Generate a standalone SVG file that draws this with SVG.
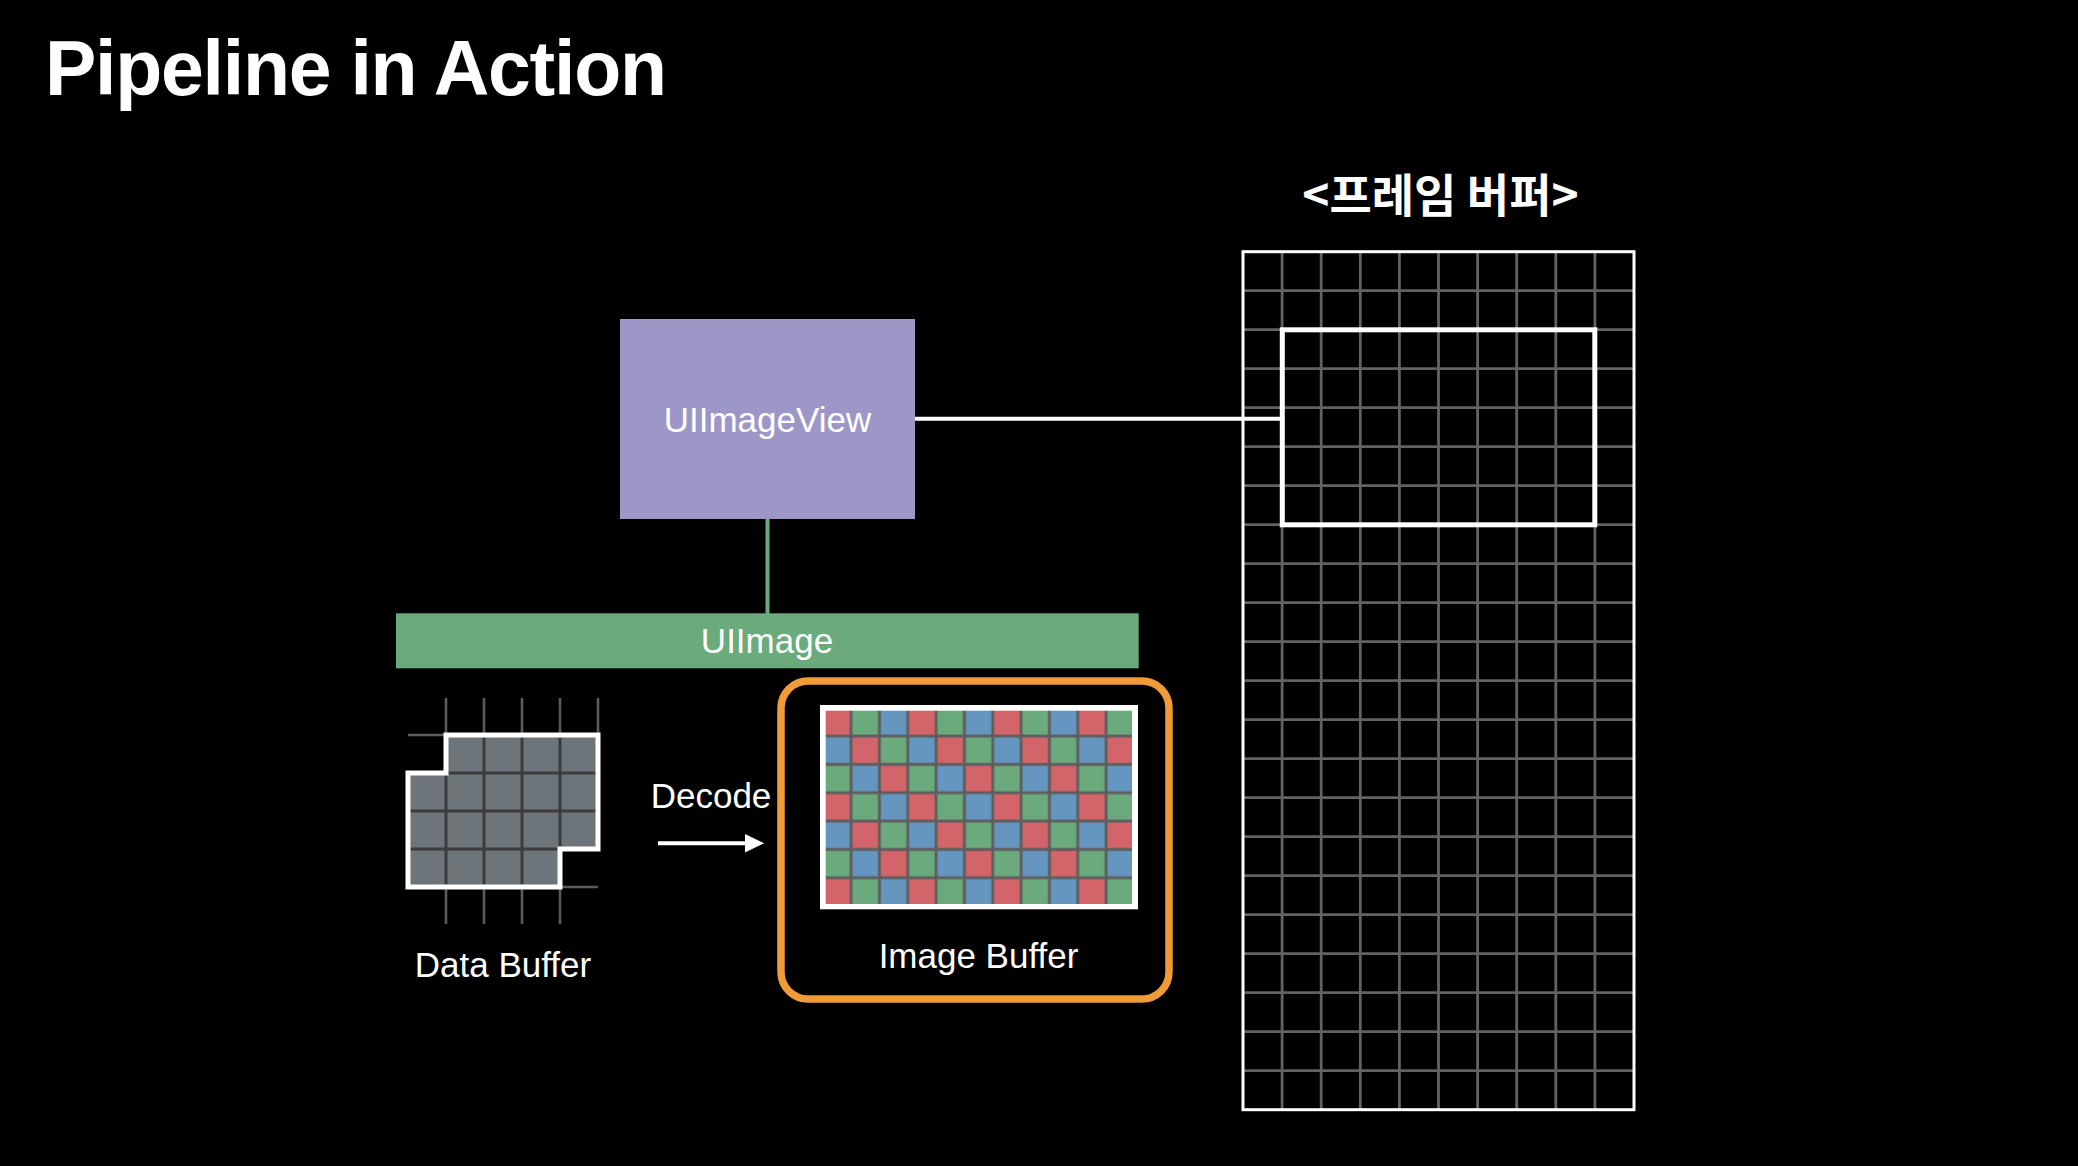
<svg xmlns="http://www.w3.org/2000/svg" width="2078" height="1166" viewBox="0 0 2078 1166">
<style>
.lbl{font-family:"Liberation Sans",Arial,sans-serif;font-size:35px;fill:#ffffff;text-anchor:middle}
.fgrid{stroke:#626262;stroke-width:2.8}
.dgrid{stroke:#3c3c3c;stroke-width:3}
.dext{stroke:#5a5a5a;stroke-width:2.6}
</style>
<defs>
<pattern id="rgb" patternUnits="userSpaceOnUse" x="822.7" y="707.7" width="85" height="85">
<rect width="85" height="85" fill="#5e5e5e"/>
<rect x="1.5" y="1.5" width="25.4" height="25.4" fill="#D3646A"/>
<rect x="29.8" y="1.5" width="25.4" height="25.4" fill="#6AAA7C"/>
<rect x="58.2" y="1.5" width="25.4" height="25.4" fill="#6496BF"/>
<rect x="1.5" y="29.8" width="25.4" height="25.4" fill="#6496BF"/>
<rect x="29.8" y="29.8" width="25.4" height="25.4" fill="#D3646A"/>
<rect x="58.2" y="29.8" width="25.4" height="25.4" fill="#6AAA7C"/>
<rect x="1.5" y="58.2" width="25.4" height="25.4" fill="#6AAA7C"/>
<rect x="29.8" y="58.2" width="25.4" height="25.4" fill="#6496BF"/>
<rect x="58.2" y="58.2" width="25.4" height="25.4" fill="#D3646A"/>
</pattern>
<clipPath id="dclip"><path d="M446,735 H598 V849 H560 V887 H408 V773 H446 Z"/></clipPath>
<marker id="arrow" markerUnits="userSpaceOnUse" markerWidth="20" markerHeight="20" refX="0" refY="9.3" orient="auto">
<path d="M0,0 L19,9.3 L0,18.6 Z" fill="#ffffff"/>
</marker>
</defs>
<rect width="2078" height="1166" fill="#000000"/>

<g id="title">
<text x="45" y="95" font-family="Liberation Sans, Arial, sans-serif" font-weight="bold" font-size="77" fill="#ffffff" textLength="622">Pipeline in Action</text>
</g>

<g id="frame-buffer-title">
<text x="1440.5" y="212" font-family="'Noto Sans CJK KR', sans-serif" font-weight="bold" font-size="46" fill="#ffffff" text-anchor="middle">&lt;프레임 버퍼&gt;</text>
</g>

<g id="frame-buffer">
<rect x="1243" y="251.7" width="391" height="858" fill="#000000"/>
<g class="fgrid">
<line x1="1282.1" y1="251.7" x2="1282.1" y2="1109.7"/>
<line x1="1321.2" y1="251.7" x2="1321.2" y2="1109.7"/>
<line x1="1360.3" y1="251.7" x2="1360.3" y2="1109.7"/>
<line x1="1399.4" y1="251.7" x2="1399.4" y2="1109.7"/>
<line x1="1438.5" y1="251.7" x2="1438.5" y2="1109.7"/>
<line x1="1477.6" y1="251.7" x2="1477.6" y2="1109.7"/>
<line x1="1516.7" y1="251.7" x2="1516.7" y2="1109.7"/>
<line x1="1555.8" y1="251.7" x2="1555.8" y2="1109.7"/>
<line x1="1594.9" y1="251.7" x2="1594.9" y2="1109.7"/>
<line x1="1243" y1="290.7" x2="1634" y2="290.7"/>
<line x1="1243" y1="329.7" x2="1634" y2="329.7"/>
<line x1="1243" y1="368.7" x2="1634" y2="368.7"/>
<line x1="1243" y1="407.7" x2="1634" y2="407.7"/>
<line x1="1243" y1="446.7" x2="1634" y2="446.7"/>
<line x1="1243" y1="485.7" x2="1634" y2="485.7"/>
<line x1="1243" y1="524.7" x2="1634" y2="524.7"/>
<line x1="1243" y1="563.7" x2="1634" y2="563.7"/>
<line x1="1243" y1="602.7" x2="1634" y2="602.7"/>
<line x1="1243" y1="641.7" x2="1634" y2="641.7"/>
<line x1="1243" y1="680.7" x2="1634" y2="680.7"/>
<line x1="1243" y1="719.7" x2="1634" y2="719.7"/>
<line x1="1243" y1="758.7" x2="1634" y2="758.7"/>
<line x1="1243" y1="797.7" x2="1634" y2="797.7"/>
<line x1="1243" y1="836.7" x2="1634" y2="836.7"/>
<line x1="1243" y1="875.7" x2="1634" y2="875.7"/>
<line x1="1243" y1="914.7" x2="1634" y2="914.7"/>
<line x1="1243" y1="953.7" x2="1634" y2="953.7"/>
<line x1="1243" y1="992.7" x2="1634" y2="992.7"/>
<line x1="1243" y1="1031.7" x2="1634" y2="1031.7"/>
<line x1="1243" y1="1070.7" x2="1634" y2="1070.7"/>
</g>
<rect x="1243" y="251.7" width="391" height="858" fill="none" stroke="#ffffff" stroke-width="3"/>
<rect x="1282.3" y="329.8" width="312.5" height="195" fill="none" stroke="#ffffff" stroke-width="5"/>
</g>

<g id="connectors">
<line x1="915" y1="418.7" x2="1280" y2="418.7" stroke="#ffffff" stroke-width="4"/>
<line x1="767.5" y1="519" x2="767.5" y2="614" stroke="#6AAA7C" stroke-width="4"/>
<line x1="658" y1="843.3" x2="745" y2="843.3" stroke="#ffffff" stroke-width="4" marker-end="url(#arrow)"/>
</g>

<g id="uiimageview">
<rect x="620" y="319" width="295" height="200" fill="#9D97C7"/>
<text class="lbl" x="767.5" y="431.5">UIImageView</text>
</g>

<g id="uiimage">
<rect x="396" y="613.3" width="742.7" height="55" fill="#6AAA7C"/>
<text class="lbl" x="767" y="652.5">UIImage</text>
</g>

<g id="data-buffer">
<g class="dext">
<line x1="446" y1="698" x2="446" y2="735"/>
<line x1="484" y1="698" x2="484" y2="735"/>
<line x1="522" y1="698" x2="522" y2="735"/>
<line x1="560" y1="698" x2="560" y2="735"/>
<line x1="598" y1="698" x2="598" y2="735"/>
<line x1="446" y1="887" x2="446" y2="924"/>
<line x1="484" y1="887" x2="484" y2="924"/>
<line x1="522" y1="887" x2="522" y2="924"/>
<line x1="560" y1="887" x2="560" y2="924"/>
<line x1="408" y1="735" x2="446" y2="735"/>
<line x1="560" y1="887" x2="598" y2="887"/>
</g>
<path d="M446,735 H598 V849 H560 V887 H408 V773 H446 Z" fill="#6D747A"/>
<g class="dgrid" clip-path="url(#dclip)">
<line x1="446" y1="735" x2="446" y2="887"/>
<line x1="484" y1="735" x2="484" y2="887"/>
<line x1="522" y1="735" x2="522" y2="887"/>
<line x1="560" y1="735" x2="560" y2="887"/>
<line x1="408" y1="773" x2="598" y2="773"/>
<line x1="408" y1="811" x2="598" y2="811"/>
<line x1="408" y1="849" x2="598" y2="849"/>
</g>
<path d="M446,735 H598 V849 H560 V887 H408 V773 H446 Z" fill="none" stroke="#ffffff" stroke-width="5"/>
<text class="lbl" x="503" y="976.5">Data Buffer</text>
</g>

<g id="decode">
<text class="lbl" x="711" y="808.3">Decode</text>
</g>

<g id="image-buffer">
<rect x="781" y="681" width="388" height="318" rx="27" ry="27" fill="none" stroke="#F19A38" stroke-width="7.5"/>
<rect x="820" y="705" width="318" height="204.3" fill="#ffffff"/>
<rect x="825.7" y="710.7" width="306.3" height="193.3" fill="url(#rgb)"/>
<text class="lbl" x="978.5" y="968.3">Image Buffer</text>
</g>
</svg>
